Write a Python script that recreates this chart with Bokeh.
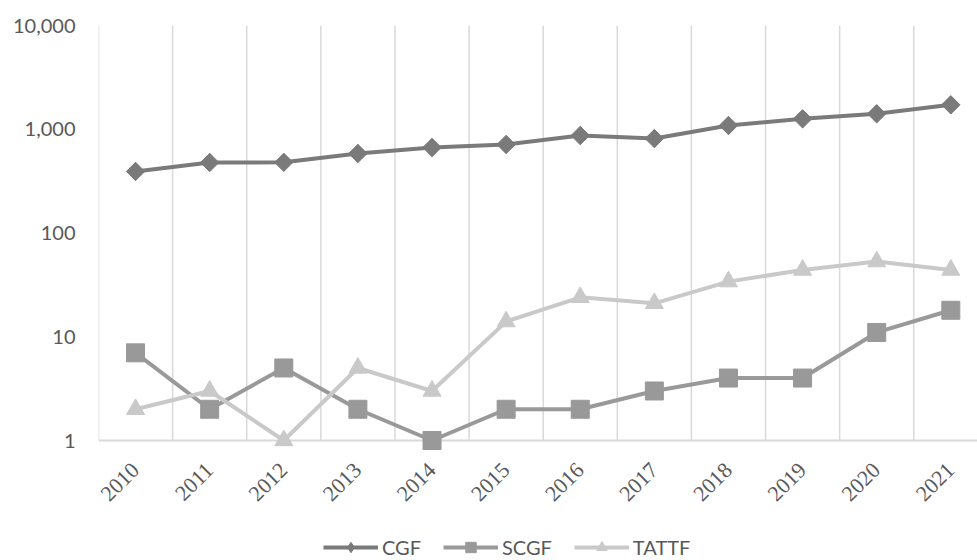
from math import pi
from bokeh.plotting import figure
from bokeh.models import Range1d, FixedTicker, Legend, LegendItem
from bokeh.embed import file_html
from bokeh.resources import INLINE

years = ["2010", "2011", "2012", "2013", "2014", "2015",
         "2016", "2017", "2018", "2019", "2020", "2021"]
cgf = [392, 478, 480, 584, 667, 713, 870, 813, 1087, 1260, 1410, 1720]
scgf = [7, 2, 5, 2, 1, 2, 2, 3, 4, 4, 11, 18]
tattf = [2, 3, 1, 5, 3, 14, 24, 21, 34, 44, 53, 44]
y_ticks = [1, 10, 100, 1000, 10000]
y_labels = ["1", "10", "100", "1,000", "10,000"]

x = list(range(len(years)))

# layout: 415 px for the 4 decades, frame extended to the bottom of the canvas
W, H, LEFT, TOP = 977, 560, 98, 25
px_per_decade = 415 / 4
y_min = 10 ** (4 - (H - TOP) / px_per_decade)

p = figure(width=W, height=H, output_backend="svg", toolbar_location=None,
           y_axis_type="log", x_range=Range1d(-0.5, 11.36), y_range=Range1d(y_min, 10000),
           min_border_left=LEFT, min_border_top=TOP, min_border_right=0, min_border_bottom=0)
p.outline_line_color = None
p.background_fill_color = "white"

# grid: vertical band separators between categories, spanning 1..10,000
p.ygrid.visible = False
p.xgrid.visible = False
bounds = [i - 0.5 for i in range(len(years))]
p.segment(x0=bounds, y0=[y_ticks[0]] * len(bounds), x1=bounds, y1=[y_ticks[-1]] * len(bounds),
          line_color="#d9d9d9", line_width=1.5, level="underlay")

# x axis fixed at y = 1
p.xaxis.fixed_location = y_ticks[0]
p.xaxis.ticker = FixedTicker(ticks=x)
p.xaxis.major_label_overrides = {i: yr for i, yr in enumerate(years)}
p.xaxis.major_label_orientation = pi / 4
p.xaxis.major_tick_line_color = None
p.xaxis.minor_tick_line_color = None
p.xaxis.axis_line_color = "#d9d9d9"
p.xaxis.axis_line_width = 2
p.xaxis.major_label_standoff = 20
p.xaxis.major_label_text_font = "Liberation Serif"
p.xaxis.major_label_text_font_size = "22px"
p.xaxis.major_label_text_color = "#595959"

# y axis
p.yaxis.ticker = FixedTicker(ticks=y_ticks)
p.yaxis.major_label_overrides = {t: l for t, l in zip(y_ticks, y_labels)}
p.yaxis.axis_line_color = None
p.yaxis.major_tick_line_color = None
p.yaxis.minor_tick_line_color = None
p.yaxis.major_label_standoff = 17
p.yaxis.major_label_text_font = "Lato"
p.yaxis.major_label_text_font_size = "20px"
p.yaxis.major_label_text_color = "#595959"

# (name, values, colour, legend marker, plot marker, size, angle)
series = [
    ("CGF", cgf, "#7a7a7a", "diamond", "square", 13, pi / 4),
    ("SCGF", scgf, "#999999", "square", "square", 18, 0),
    ("TATTF", tattf, "#c9c9c9", "triangle", "triangle", 18, 0),
]
items = []
for name, vals, col, leg_marker, marker, size, ang in series:
    l = p.line(x, vals, line_color=col, line_width=4, level="overlay")
    rs = [l]
    if leg_marker != marker:
        # same points drawn as diamonds underneath, so the legend shows a diamond
        rs.append(p.scatter(x, vals, marker=leg_marker, size=size * 1.35,
                            fill_color=col, line_color=col, level="overlay"))
    s = p.scatter(x, vals, marker=marker, size=size, angle=ang,
                  fill_color=col, line_color=col, level="overlay")
    if leg_marker == marker:
        rs.append(s)
    items.append(LegendItem(label=name, renderers=rs))

legend = Legend(items=items, orientation="horizontal", location=(225, 0),
                glyph_width=55, glyph_height=26, label_standoff=4, spacing=22,
                padding=0, margin=0, border_line_color=None, background_fill_alpha=0,
                label_text_font="Lato", label_text_font_size="20px",
                label_text_color="#595959")
p.add_layout(legend, "center")

open("out.html", "w").write(file_html(p, INLINE))
